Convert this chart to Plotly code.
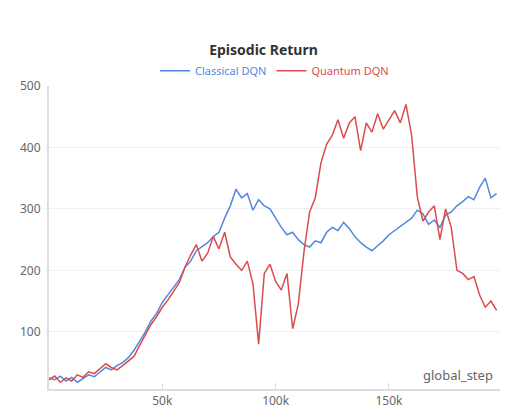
import numpy as np
import plotly.graph_objects as go

step_size = 2500
classical = [25, 22, 28, 20, 26, 18, 24, 30, 27, 35, 42, 38, 45, 50, 58, 70, 85, 100, 118, 130,
             148, 160, 172, 185, 205, 215, 232, 238, 245, 255, 262, 285, 305, 332, 318, 325, 298, 315, 305, 300,
             285, 270, 258, 262, 250, 242, 238, 248, 245, 262, 270, 265, 278, 268, 255, 245, 238, 232, 240, 248,
             258, 265, 272, 278, 285, 298, 292, 275, 282, 270, 290, 295, 305, 312, 320, 315, 335, 350, 318, 325]
quantum = [22, 28, 18, 25, 20, 30, 26, 35, 32, 40, 48, 42, 38, 45, 52, 60, 78, 95, 112, 125,
           140, 152, 165, 180, 205, 225, 242, 215, 228, 255, 235, 262, 222, 210, 200, 215, 178, 80, 195, 210,
           182, 168, 195, 105, 145, 230, 295, 318, 375, 405, 420, 445, 415, 440, 450, 395, 440, 425, 455, 430,
           445, 460, 440, 470, 420, 320, 280, 295, 305, 250, 300, 270, 200, 195, 185, 190, 160, 140, 150, 135]
steps = np.arange(len(classical)) * step_size

fig = go.Figure()
fig.add_trace(go.Scatter(x=steps, y=classical, mode='lines',
                         name='<span style="color:#5387dd">Classical DQN</span>',
                         line=dict(color='#5387dd', width=1.5)))
fig.add_trace(go.Scatter(x=steps, y=quantum, mode='lines',
                         name='<span style="color:#da4c4c">Quantum DQN</span>',
                         line=dict(color='#da4c4c', width=1.5)))

fig.update_layout(
    width=511, height=415,
    margin=dict(l=41, r=19, t=78, b=34, autoexpand=False),
    plot_bgcolor='white', paper_bgcolor='white',
    font=dict(family='Noto Sans', size=12, color='#666'),
    title=dict(text='<b>Episodic Return</b>', x=0.5, xanchor='center', y=0.899, yanchor='middle',
               font=dict(size=14, color='#333')),
    legend=dict(orientation='h', x=0.5, xanchor='center', y=1.05, yanchor='middle',
                font=dict(size=11), itemwidth=30),
    showlegend=True,
)
fig.update_xaxes(range=[0, 199000], tickvals=[50000, 100000, 150000], ticktext=['50k', '100k', '150k'],
                 showgrid=False, showline=True, linecolor='#ddd', linewidth=2,
                 ticks='inside', ticklen=6, tickcolor='#ddd', zeroline=False)
fig.update_yaxes(range=[7, 500], tickvals=[100, 200, 300, 400, 500],
                 showgrid=True, gridcolor='#f2f2f2', showline=True, linecolor='#ddd', linewidth=2,
                 ticks='outside', ticklen=4, tickcolor='#f2f2f2', zeroline=False)
fig.add_annotation(text='global_step', xref='paper', yref='paper', x=0.99, y=0.01,
                   xanchor='right', yanchor='bottom', showarrow=False,
                   font=dict(size=13, color='#666'))

fig.write_html('out.html')
